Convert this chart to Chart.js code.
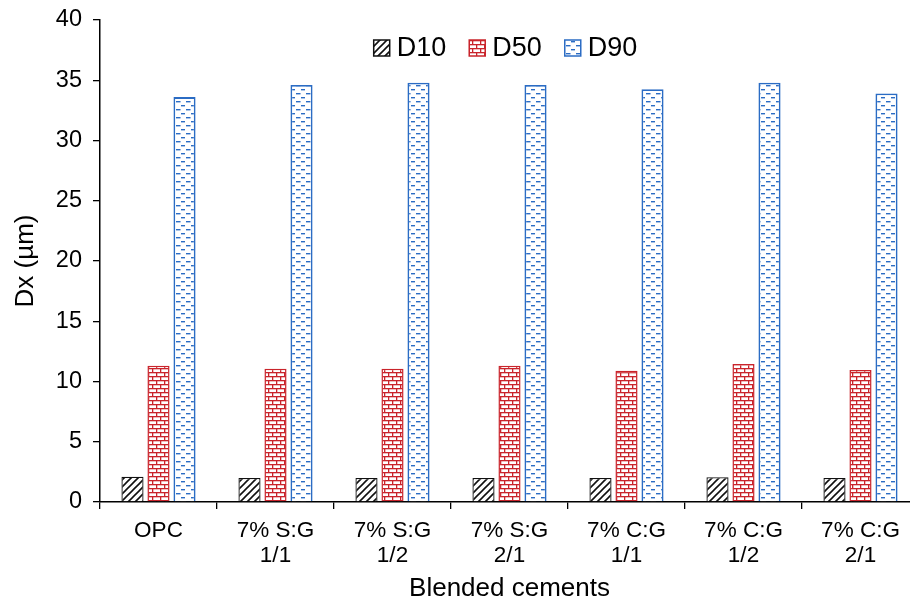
<!DOCTYPE html>
<html><head><meta charset="utf-8">
<script src="https://cdn.jsdelivr.net/npm/chart.js@4"></script>
<style>html,body{margin:0;padding:0;overflow:hidden;background:#fff}#wrap{width:930px;height:597px}</style>
</head><body><div id="wrap"><canvas id="c" width="930" height="597"></canvas></div>
<script>
const categories = [['OPC'], ['7% S:G','1/1'], ['7% S:G','1/2'], ['7% S:G','2/1'], ['7% C:G','1/1'], ['7% C:G','1/2'], ['7% C:G','2/1']];
const seriesNames = ['D10','D50','D90'];
const d10 = [2.1, 2.0, 2.0, 2.0, 2.0, 2.05, 2.0];
const d50 = [11.3, 11.05, 11.05, 11.3, 10.9, 11.45, 10.95];
const d90 = [33.6, 34.6, 34.8, 34.6, 34.25, 34.8, 33.9];
const yTicks = [0,5,10,15,20,25,30,35,40];

const RED = '#c9242b', BLUE = '#2b6cc4';
function mk(w,h,draw){const c=document.createElement('canvas');c.width=w;c.height=h;const g=c.getContext('2d');g.fillStyle='#fff';g.fillRect(0,0,w,h);draw(g);return g.createPattern(c,'repeat');}
const hatch = mk(7,7,g=>{g.strokeStyle='#111';g.lineWidth=1.6;g.beginPath();g.moveTo(-1,8);g.lineTo(8,-1);g.moveTo(-4,4);g.lineTo(4,-4);g.moveTo(3,11);g.lineTo(11,3);g.stroke();});
const brick = mk(8,8,g=>{g.fillStyle=RED;g.fillRect(0,0,8,1.3);g.fillRect(0,4,8,1.3);g.fillRect(0,0,1.3,4);g.fillRect(4,4,1.3,4);});
const dash = mk(10,8,g=>{g.fillStyle=BLUE;g.fillRect(1,1,4,1.4);g.fillRect(6,5,4,1.4);g.fillStyle='#8fb0e0';g.fillRect(0,5,1,1.4);});

const font = "'Liberation Sans', Arial, sans-serif";

const topLegend = {
  id:'topLegend',
  afterDraw(chart){
    const ctx = chart.ctx, ca = chart.chartArea;
    const fs = 27, box = 16, gap = 7, itemGap = 23, cy = 48;
    ctx.save();
    ctx.font = fs + 'px ' + font;
    const ds = chart.data.datasets;
    const widths = ds.map(d => box + gap + ctx.measureText(d.label).width);
    const total = widths.reduce((a,b)=>a+b,0) + itemGap*(ds.length-1);
    let x = (ca.left + ca.right)/2 - total/2 - 4;
    ds.forEach((d,i)=>{
      ctx.fillStyle = d.backgroundColor;
      ctx.fillRect(x, cy-box/2, box, box);
      ctx.strokeStyle = d.borderColor; ctx.lineWidth = 1.5;
      ctx.strokeRect(x, cy-box/2, box, box);
      ctx.fillStyle = '#000'; ctx.textBaseline = 'middle'; ctx.textAlign = 'left';
      ctx.fillText(d.label, x + box + gap, cy + 1);
      x += widths[i] + itemGap;
    });
    ctx.restore();
  }
};

new Chart(document.getElementById('c'), {
  type:'bar',
  data:{labels:categories, datasets:[
    {label:seriesNames[0], data:d10, backgroundColor:hatch, borderColor:'#111', borderWidth:1.3},
    {label:seriesNames[1], data:d50, backgroundColor:brick, borderColor:RED, borderWidth:1.5},
    {label:seriesNames[2], data:d90, backgroundColor:dash, borderColor:BLUE, borderWidth:1.8}
  ]},
  plugins:[topLegend],
  options:{
    responsive:false, animation:false,
    layout:{padding:{left:0,right:11,top:20,bottom:0}},
    datasets:{bar:{categoryPercentage:0.667, barPercentage:0.85}},
    plugins:{ legend:{display:false}, tooltip:{enabled:false} },
    scales:{
      x:{
        grid:{drawOnChartArea:false, offset:true, drawTicks:true, tickLength:7, color:'#000', lineWidth:1.3},
        border:{display:true,color:'#000',width:1.5},
        ticks:{color:'#000', padding:9, maxRotation:0, autoSkip:false, font:{family:font,size:22.5,lineHeight:1.12}},
        title:{display:true, text:'Blended cements', color:'#000', padding:{top:0,bottom:-5}, font:{family:font,size:26,lineHeight:1}},
        afterFit:s=>{s.height=95; s.paddingLeft=0; s.paddingRight=0;}
      },
      y:{
        min:0,max:40,
        afterBuildTicks:s=>{s.ticks=yTicks.map(v=>({value:v}));},
        grid:{drawOnChartArea:false, drawTicks:true, tickLength:7, color:'#000', lineWidth:1.3},
        border:{display:true,color:'#000',width:1.5},
        ticks:{color:'#000', padding:11, font:{family:font,size:23.5}},
        title:{display:true, text:'Dx (µm)', color:'#000', padding:{top:13,bottom:0}, font:{family:font,size:26,lineHeight:1}},
        afterFit:s=>{s.width=100; s.paddingTop=0; s.paddingBottom=0;}
      }
    }
  }
});
</script></body></html>
